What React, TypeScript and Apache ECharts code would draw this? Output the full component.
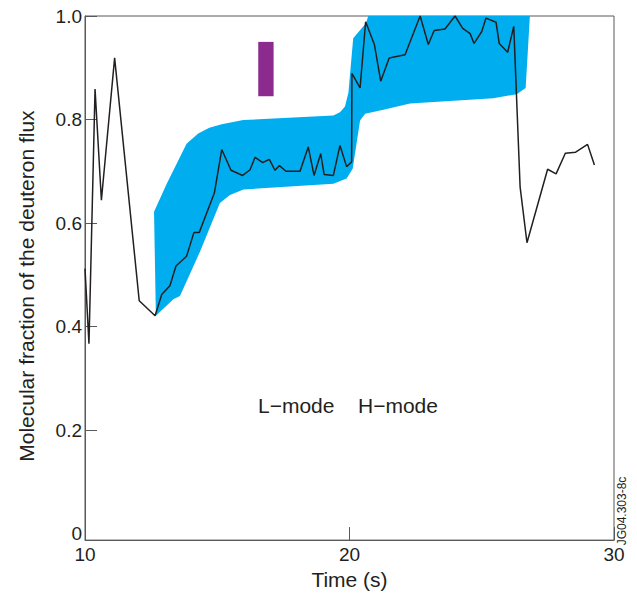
import React, { useEffect, useRef } from "react";
import * as echarts from "echarts";

// Measured line (time s, molecular fraction)
const lineT = [10.0, 10.15, 10.38, 10.62, 11.12, 12.05, 12.65, 12.9, 13.21, 13.44, 13.84, 14.12, 14.32, 14.89, 15.17, 15.52, 15.96, 16.24, 16.43, 16.72, 16.97, 17.18, 17.35, 17.6, 18.13, 18.44, 18.66, 18.91, 19.04, 19.39, 19.64, 19.89, 20.08, 20.09, 20.4, 20.61, 20.94, 21.18, 21.5, 22.1, 22.67, 22.98, 23.2, 23.61, 23.99, 24.28, 24.56, 24.71, 25.0, 25.16, 25.54, 25.66, 25.98, 26.21, 26.45, 26.71, 27.49, 27.81, 28.16, 28.55, 29.0, 29.26];
const lineV = [0.512, 0.367, 0.859, 0.644, 0.919, 0.45, 0.421, 0.462, 0.479, 0.517, 0.536, 0.582, 0.582, 0.658, 0.742, 0.702, 0.692, 0.703, 0.727, 0.717, 0.723, 0.702, 0.711, 0.7, 0.7, 0.747, 0.692, 0.734, 0.694, 0.692, 0.75, 0.709, 0.718, 0.889, 0.861, 0.989, 0.945, 0.874, 0.919, 0.925, 1.0, 0.945, 0.972, 0.975, 1.0, 0.976, 0.966, 0.947, 0.97, 0.996, 0.988, 0.947, 0.93, 0.98, 0.67, 0.562, 0.704, 0.695, 0.735, 0.737, 0.752, 0.712];

// Shaded band: upper edge (left to right) and lower edge (left to right)
const bandUpperT = [12.61, 13.09, 13.84, 14.28, 14.7, 15.17, 15.98, 17.5, 19.39, 19.64, 19.83, 19.96, 20.14, 20.62, 20.71, 26.82];
const bandUpperV = [0.622, 0.676, 0.753, 0.773, 0.784, 0.791, 0.799, 0.803, 0.808, 0.814, 0.825, 0.852, 0.957, 0.986, 1.0, 1.0];
const bandLowerT = [12.68, 13.34, 13.59, 14.35, 15.1, 15.48, 15.99, 19.39, 19.89, 20.12, 20.4, 20.59, 21.28, 22.29, 25.44, 26.32, 26.66];
const bandLowerV = [0.421, 0.453, 0.459, 0.545, 0.639, 0.654, 0.665, 0.676, 0.686, 0.705, 0.798, 0.811, 0.819, 0.831, 0.841, 0.849, 0.861];

// Purple marker rectangle corners
const markerT = [16.55, 17.13];
const markerV = [0.95, 0.845];

const yLabels = [0, 0.2, 0.4, 0.6, 0.8, 1.0];
const yTicks = [0.2, 0.4, 0.6, 0.8, 1.0];

const FONT = '"Liberation Sans", Arial, Helvetica, sans-serif';
const INK = "#231F20";
const AXIS = "#58595B";

export default function App() {
  const ref = useRef<HTMLDivElement>(null);
  useEffect(() => {
    if (!ref.current) return;
    const chart = echarts.init(ref.current, null, { renderer: "svg" });
    const lineData = lineT.map((t, i) => [t, lineV[i]]);
    const upper = bandUpperT.map((t, i) => [t, bandUpperV[i]]);
    const lower = bandLowerT.map((t, i) => [t, bandLowerV[i]]);
    const polygon = upper.concat(lower.slice().reverse());

    chart.setOption({
      animation: false,
      grid: {
        left: 85,
        right: 23,
        top: 16,
        bottom: 50,
        show: true,
        borderColor: AXIS,
        borderWidth: 1,
        backgroundColor: "transparent",
      },
      xAxis: {
        type: "value",
        min: 10,
        max: 30,
        interval: 10,
        name: "Time (s)",
        nameLocation: "middle",
        nameGap: 25,
        nameTextStyle: { fontFamily: FONT, fontSize: 21, color: INK },
        axisLine: { onZero: false, lineStyle: { color: AXIS, width: 1 } },
        axisTick: { inside: true, length: 13, lineStyle: { color: AXIS } },
        axisLabel: { fontFamily: FONT, fontSize: 19, color: INK, margin: 5 },
        splitLine: { show: false },
      },
      yAxis: {
        type: "value",
        min: -0.0124,
        max: 1,
        name: "Molecular fraction of the deuteron flux",
        nameLocation: "middle",
        nameGap: 48,
        nameTextStyle: { fontFamily: FONT, fontSize: 21, color: INK, padding: [0, 0, 0, -16] },
        axisLine: { onZero: false, lineStyle: { color: AXIS, width: 1 } },
        axisTick: {
          inside: true,
          length: 12,
          lineStyle: { color: AXIS },
          customValues: yTicks,
        },
        axisLabel: {
          fontFamily: FONT,
          fontSize: 19,
          color: INK,
          margin: 3,
          customValues: yLabels,
          formatter: (v: number) => (v === 0 ? "0" : v.toFixed(1)),
        },
        splitLine: { show: false },
      },
      series: [
        {
          type: "custom",
          silent: true,
          z: 1,
          data: [[0]],
          renderItem: (params: any, api: any) => {
            const pts = polygon.map((p) => api.coord(p));
            return {
              type: "polygon",
              shape: { points: pts },
              style: { fill: "#00AEEF", stroke: "none" },
            };
          },
        },
        {
          type: "custom",
          silent: true,
          z: 2,
          data: [[0]],
          renderItem: (params: any, api: any) => {
            const a = api.coord([markerT[0], markerV[0]]);
            const b = api.coord([markerT[1], markerV[1]]);
            return {
              type: "rect",
              shape: { x: a[0], y: a[1], width: b[0] - a[0], height: b[1] - a[1] },
              style: { fill: "#8D2A8E" },
            };
          },
        },
        {
          type: "line",
          z: 3,
          data: lineData,
          showSymbol: false,
          symbol: "none",
          lineStyle: { color: INK, width: 1.5 },
          silent: true,
        },
      ],
      graphic: [
        {
          type: "text",
          x: 258,
          y: 405,
          style: { text: "L\u2212mode", fontFamily: FONT, fontSize: 21, fill: INK, verticalAlign: "middle" },
        },
        {
          type: "text",
          x: 358,
          y: 405,
          style: { text: "H\u2212mode", fontFamily: FONT, fontSize: 21, fill: INK, verticalAlign: "middle" },
        },
        {
          type: "text",
          x: 622,
          y: 511,
          rotation: Math.PI / 2,
          style: { text: "JG04.303-8c", fontFamily: FONT, fontSize: 12, fill: INK, align: "center", verticalAlign: "middle" },
        },
      ],
    });
    return () => chart.dispose();
  }, []);
  return (
    <div
      ref={ref}
      style={{ position: "fixed", left: 0, top: 0, width: 637, height: 595, background: "#fff" }}
    />
  );
}
